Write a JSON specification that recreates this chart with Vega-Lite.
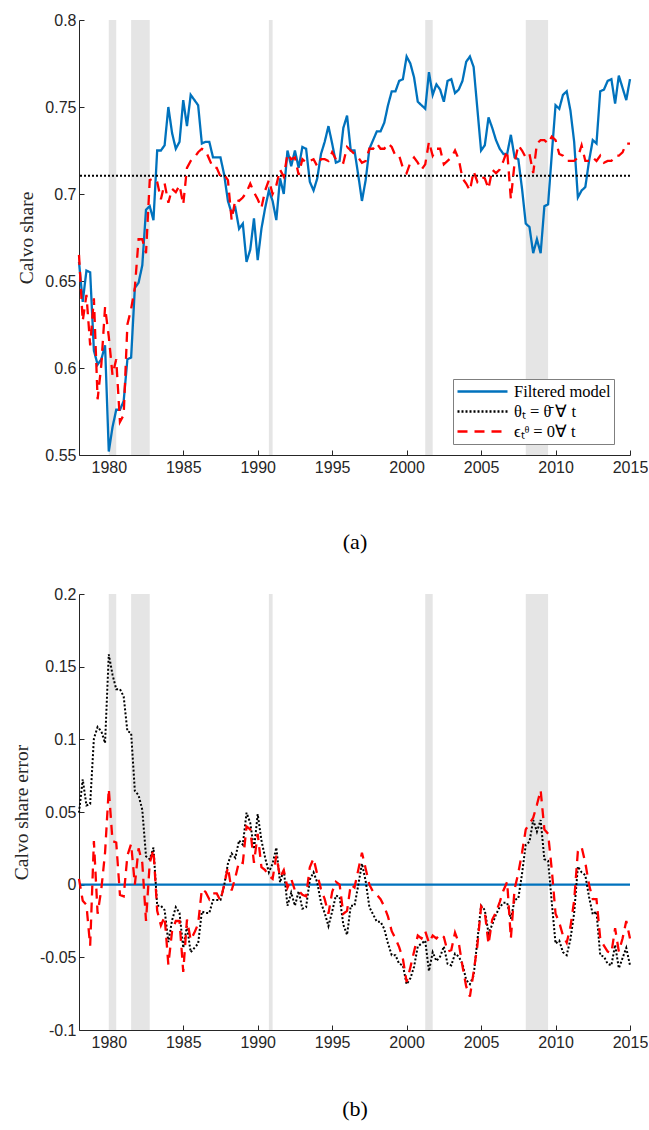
{
  "$schema": "https://vega.github.io/schema/vega-lite/v6.json",
  "background": "white",
  "padding": {"left": 11, "top": 12, "right": 0, "bottom": 5},
  "spacing": 34,
  "datasets": {
    "recessions": [
      {"start": 1980.0, "end": 1980.5},
      {"start": 1981.5, "end": 1982.75},
      {"start": 1990.75, "end": 1991.0},
      {"start": 2001.25, "end": 2001.75},
      {"start": 2008.0, "end": 2009.5}
    ],
    "series": [
      {"t": 1978.00, "filtered": 0.661, "eps0": 0.665, "err_theta": 0.0495, "err_eps": 0.004},
      {"t": 1978.25, "filtered": 0.638, "eps0": 0.627, "err_theta": 0.0725, "err_eps": -0.011},
      {"t": 1978.50, "filtered": 0.656, "eps0": 0.642, "err_theta": 0.0545, "err_eps": -0.014},
      {"t": 1978.75, "filtered": 0.655, "eps0": 0.613, "err_theta": 0.0555, "err_eps": -0.042},
      {"t": 1979.00, "filtered": 0.610, "eps0": 0.640, "err_theta": 0.1005, "err_eps": 0.030},
      {"t": 1979.25, "filtered": 0.602, "eps0": 0.582, "err_theta": 0.1085, "err_eps": -0.020},
      {"t": 1979.50, "filtered": 0.605, "eps0": 0.602, "err_theta": 0.1055, "err_eps": -0.003},
      {"t": 1979.75, "filtered": 0.613, "eps0": 0.635, "err_theta": 0.0975, "err_eps": 0.022},
      {"t": 1980.00, "filtered": 0.552, "eps0": 0.618, "err_theta": 0.1585, "err_eps": 0.066},
      {"t": 1980.25, "filtered": 0.566, "eps0": 0.596, "err_theta": 0.1445, "err_eps": 0.030},
      {"t": 1980.50, "filtered": 0.576, "eps0": 0.605, "err_theta": 0.1345, "err_eps": 0.029},
      {"t": 1980.75, "filtered": 0.576, "eps0": 0.569, "err_theta": 0.1345, "err_eps": -0.007},
      {"t": 1981.00, "filtered": 0.581, "eps0": 0.573, "err_theta": 0.1295, "err_eps": -0.008},
      {"t": 1981.25, "filtered": 0.605, "eps0": 0.625, "err_theta": 0.1055, "err_eps": 0.020},
      {"t": 1981.50, "filtered": 0.606, "eps0": 0.634, "err_theta": 0.1045, "err_eps": 0.028},
      {"t": 1981.75, "filtered": 0.646, "eps0": 0.646, "err_theta": 0.0645, "err_eps": 0.000},
      {"t": 1982.00, "filtered": 0.649, "eps0": 0.674, "err_theta": 0.0615, "err_eps": 0.025},
      {"t": 1982.25, "filtered": 0.659, "eps0": 0.674, "err_theta": 0.0515, "err_eps": 0.015},
      {"t": 1982.50, "filtered": 0.691, "eps0": 0.666, "err_theta": 0.0195, "err_eps": -0.025},
      {"t": 1982.75, "filtered": 0.693, "eps0": 0.708, "err_theta": 0.0175, "err_eps": 0.015},
      {"t": 1983.00, "filtered": 0.685, "eps0": 0.709, "err_theta": 0.0255, "err_eps": 0.024},
      {"t": 1983.25, "filtered": 0.725, "eps0": 0.707, "err_theta": -0.0145, "err_eps": -0.018},
      {"t": 1983.50, "filtered": 0.725, "eps0": 0.697, "err_theta": -0.0145, "err_eps": -0.028},
      {"t": 1983.75, "filtered": 0.728, "eps0": 0.706, "err_theta": -0.0175, "err_eps": -0.022},
      {"t": 1984.00, "filtered": 0.750, "eps0": 0.695, "err_theta": -0.0395, "err_eps": -0.055},
      {"t": 1984.25, "filtered": 0.735, "eps0": 0.703, "err_theta": -0.0245, "err_eps": -0.032},
      {"t": 1984.50, "filtered": 0.726, "eps0": 0.701, "err_theta": -0.0155, "err_eps": -0.025},
      {"t": 1984.75, "filtered": 0.730, "eps0": 0.705, "err_theta": -0.0195, "err_eps": -0.025},
      {"t": 1985.00, "filtered": 0.754, "eps0": 0.694, "err_theta": -0.0435, "err_eps": -0.060},
      {"t": 1985.25, "filtered": 0.739, "eps0": 0.715, "err_theta": -0.0285, "err_eps": -0.024},
      {"t": 1985.50, "filtered": 0.757, "eps0": 0.719, "err_theta": -0.0465, "err_eps": -0.038},
      {"t": 1985.75, "filtered": 0.754, "eps0": 0.721, "err_theta": -0.0435, "err_eps": -0.033},
      {"t": 1986.00, "filtered": 0.751, "eps0": 0.724, "err_theta": -0.0405, "err_eps": -0.027},
      {"t": 1986.25, "filtered": 0.729, "eps0": 0.726, "err_theta": -0.0185, "err_eps": -0.003},
      {"t": 1986.50, "filtered": 0.730, "eps0": 0.725, "err_theta": -0.0195, "err_eps": -0.005},
      {"t": 1986.75, "filtered": 0.730, "eps0": 0.720, "err_theta": -0.0195, "err_eps": -0.010},
      {"t": 1987.00, "filtered": 0.721, "eps0": 0.715, "err_theta": -0.0105, "err_eps": -0.006},
      {"t": 1987.25, "filtered": 0.721, "eps0": 0.715, "err_theta": -0.0105, "err_eps": -0.006},
      {"t": 1987.50, "filtered": 0.721, "eps0": 0.710, "err_theta": -0.0105, "err_eps": -0.011},
      {"t": 1987.75, "filtered": 0.711, "eps0": 0.711, "err_theta": -0.0005, "err_eps": 0.000},
      {"t": 1988.00, "filtered": 0.696, "eps0": 0.708, "err_theta": 0.0145, "err_eps": 0.012},
      {"t": 1988.25, "filtered": 0.689, "eps0": 0.685, "err_theta": 0.0215, "err_eps": -0.004},
      {"t": 1988.50, "filtered": 0.692, "eps0": 0.697, "err_theta": 0.0185, "err_eps": 0.005},
      {"t": 1988.75, "filtered": 0.680, "eps0": 0.696, "err_theta": 0.0305, "err_eps": 0.016},
      {"t": 1989.00, "filtered": 0.683, "eps0": 0.698, "err_theta": 0.0275, "err_eps": 0.015},
      {"t": 1989.25, "filtered": 0.661, "eps0": 0.701, "err_theta": 0.0495, "err_eps": 0.040},
      {"t": 1989.50, "filtered": 0.668, "eps0": 0.706, "err_theta": 0.0425, "err_eps": 0.038},
      {"t": 1989.75, "filtered": 0.686, "eps0": 0.701, "err_theta": 0.0245, "err_eps": 0.015},
      {"t": 1990.00, "filtered": 0.662, "eps0": 0.697, "err_theta": 0.0485, "err_eps": 0.035},
      {"t": 1990.25, "filtered": 0.680, "eps0": 0.692, "err_theta": 0.0305, "err_eps": 0.012},
      {"t": 1990.50, "filtered": 0.692, "eps0": 0.702, "err_theta": 0.0185, "err_eps": 0.010},
      {"t": 1990.75, "filtered": 0.702, "eps0": 0.708, "err_theta": 0.0085, "err_eps": 0.006},
      {"t": 1991.00, "filtered": 0.696, "eps0": 0.700, "err_theta": 0.0145, "err_eps": 0.004},
      {"t": 1991.25, "filtered": 0.685, "eps0": 0.705, "err_theta": 0.0255, "err_eps": 0.020},
      {"t": 1991.50, "filtered": 0.709, "eps0": 0.714, "err_theta": 0.0015, "err_eps": 0.005},
      {"t": 1991.75, "filtered": 0.700, "eps0": 0.710, "err_theta": 0.0105, "err_eps": 0.010},
      {"t": 1992.00, "filtered": 0.725, "eps0": 0.723, "err_theta": -0.0145, "err_eps": -0.002},
      {"t": 1992.25, "filtered": 0.716, "eps0": 0.720, "err_theta": -0.0055, "err_eps": 0.004},
      {"t": 1992.50, "filtered": 0.725, "eps0": 0.721, "err_theta": -0.0145, "err_eps": -0.004},
      {"t": 1992.75, "filtered": 0.715, "eps0": 0.711, "err_theta": -0.0045, "err_eps": -0.004},
      {"t": 1993.00, "filtered": 0.727, "eps0": 0.720, "err_theta": -0.0165, "err_eps": -0.007},
      {"t": 1993.25, "filtered": 0.726, "eps0": 0.718, "err_theta": -0.0155, "err_eps": -0.008},
      {"t": 1993.50, "filtered": 0.707, "eps0": 0.719, "err_theta": 0.0035, "err_eps": 0.012},
      {"t": 1993.75, "filtered": 0.702, "eps0": 0.720, "err_theta": 0.0085, "err_eps": 0.018},
      {"t": 1994.00, "filtered": 0.709, "eps0": 0.716, "err_theta": 0.0015, "err_eps": 0.007},
      {"t": 1994.25, "filtered": 0.723, "eps0": 0.720, "err_theta": -0.0125, "err_eps": -0.003},
      {"t": 1994.50, "filtered": 0.730, "eps0": 0.720, "err_theta": -0.0195, "err_eps": -0.010},
      {"t": 1994.75, "filtered": 0.739, "eps0": 0.719, "err_theta": -0.0285, "err_eps": -0.020},
      {"t": 1995.00, "filtered": 0.729, "eps0": 0.724, "err_theta": -0.0185, "err_eps": -0.005},
      {"t": 1995.25, "filtered": 0.718, "eps0": 0.720, "err_theta": -0.0075, "err_eps": 0.002},
      {"t": 1995.50, "filtered": 0.719, "eps0": 0.719, "err_theta": -0.0085, "err_eps": 0.000},
      {"t": 1995.75, "filtered": 0.738, "eps0": 0.718, "err_theta": -0.0275, "err_eps": -0.020},
      {"t": 1996.00, "filtered": 0.745, "eps0": 0.727, "err_theta": -0.0345, "err_eps": -0.018},
      {"t": 1996.25, "filtered": 0.725, "eps0": 0.725, "err_theta": -0.0145, "err_eps": 0.000},
      {"t": 1996.50, "filtered": 0.725, "eps0": 0.723, "err_theta": -0.0145, "err_eps": -0.002},
      {"t": 1996.75, "filtered": 0.711, "eps0": 0.721, "err_theta": -0.0005, "err_eps": 0.010},
      {"t": 1997.00, "filtered": 0.696, "eps0": 0.718, "err_theta": 0.0145, "err_eps": 0.022},
      {"t": 1997.25, "filtered": 0.708, "eps0": 0.719, "err_theta": 0.0025, "err_eps": 0.011},
      {"t": 1997.50, "filtered": 0.726, "eps0": 0.726, "err_theta": -0.0155, "err_eps": 0.000},
      {"t": 1997.75, "filtered": 0.731, "eps0": 0.726, "err_theta": -0.0205, "err_eps": -0.005},
      {"t": 1998.00, "filtered": 0.736, "eps0": 0.729, "err_theta": -0.0255, "err_eps": -0.007},
      {"t": 1998.25, "filtered": 0.736, "eps0": 0.726, "err_theta": -0.0255, "err_eps": -0.010},
      {"t": 1998.50, "filtered": 0.741, "eps0": 0.726, "err_theta": -0.0305, "err_eps": -0.015},
      {"t": 1998.75, "filtered": 0.751, "eps0": 0.729, "err_theta": -0.0405, "err_eps": -0.022},
      {"t": 1999.00, "filtered": 0.759, "eps0": 0.727, "err_theta": -0.0485, "err_eps": -0.032},
      {"t": 1999.25, "filtered": 0.759, "eps0": 0.722, "err_theta": -0.0485, "err_eps": -0.037},
      {"t": 1999.50, "filtered": 0.765, "eps0": 0.722, "err_theta": -0.0545, "err_eps": -0.043},
      {"t": 1999.75, "filtered": 0.766, "eps0": 0.715, "err_theta": -0.0555, "err_eps": -0.051},
      {"t": 2000.00, "filtered": 0.779, "eps0": 0.712, "err_theta": -0.0685, "err_eps": -0.067},
      {"t": 2000.25, "filtered": 0.775, "eps0": 0.718, "err_theta": -0.0645, "err_eps": -0.057},
      {"t": 2000.50, "filtered": 0.767, "eps0": 0.721, "err_theta": -0.0565, "err_eps": -0.046},
      {"t": 2000.75, "filtered": 0.753, "eps0": 0.718, "err_theta": -0.0425, "err_eps": -0.035},
      {"t": 2001.00, "filtered": 0.751, "eps0": 0.714, "err_theta": -0.0405, "err_eps": -0.037},
      {"t": 2001.25, "filtered": 0.749, "eps0": 0.717, "err_theta": -0.0385, "err_eps": -0.032},
      {"t": 2001.50, "filtered": 0.770, "eps0": 0.730, "err_theta": -0.0595, "err_eps": -0.040},
      {"t": 2001.75, "filtered": 0.757, "eps0": 0.722, "err_theta": -0.0465, "err_eps": -0.035},
      {"t": 2002.00, "filtered": 0.763, "eps0": 0.726, "err_theta": -0.0525, "err_eps": -0.037},
      {"t": 2002.25, "filtered": 0.760, "eps0": 0.726, "err_theta": -0.0495, "err_eps": -0.034},
      {"t": 2002.50, "filtered": 0.753, "eps0": 0.717, "err_theta": -0.0425, "err_eps": -0.036},
      {"t": 2002.75, "filtered": 0.765, "eps0": 0.719, "err_theta": -0.0545, "err_eps": -0.046},
      {"t": 2003.00, "filtered": 0.766, "eps0": 0.721, "err_theta": -0.0555, "err_eps": -0.045},
      {"t": 2003.25, "filtered": 0.758, "eps0": 0.725, "err_theta": -0.0475, "err_eps": -0.033},
      {"t": 2003.50, "filtered": 0.760, "eps0": 0.720, "err_theta": -0.0495, "err_eps": -0.040},
      {"t": 2003.75, "filtered": 0.765, "eps0": 0.709, "err_theta": -0.0545, "err_eps": -0.056},
      {"t": 2004.00, "filtered": 0.776, "eps0": 0.706, "err_theta": -0.0655, "err_eps": -0.070},
      {"t": 2004.25, "filtered": 0.779, "eps0": 0.702, "err_theta": -0.0685, "err_eps": -0.077},
      {"t": 2004.50, "filtered": 0.773, "eps0": 0.713, "err_theta": -0.0625, "err_eps": -0.060},
      {"t": 2004.75, "filtered": 0.749, "eps0": 0.707, "err_theta": -0.0385, "err_eps": -0.042},
      {"t": 2005.00, "filtered": 0.725, "eps0": 0.710, "err_theta": -0.0145, "err_eps": -0.015},
      {"t": 2005.25, "filtered": 0.728, "eps0": 0.709, "err_theta": -0.0175, "err_eps": -0.019},
      {"t": 2005.50, "filtered": 0.744, "eps0": 0.703, "err_theta": -0.0335, "err_eps": -0.041},
      {"t": 2005.75, "filtered": 0.738, "eps0": 0.714, "err_theta": -0.0275, "err_eps": -0.024},
      {"t": 2006.00, "filtered": 0.731, "eps0": 0.712, "err_theta": -0.0205, "err_eps": -0.019},
      {"t": 2006.25, "filtered": 0.726, "eps0": 0.714, "err_theta": -0.0155, "err_eps": -0.012},
      {"t": 2006.50, "filtered": 0.723, "eps0": 0.719, "err_theta": -0.0125, "err_eps": -0.004},
      {"t": 2006.75, "filtered": 0.723, "eps0": 0.725, "err_theta": -0.0125, "err_eps": 0.002},
      {"t": 2007.00, "filtered": 0.734, "eps0": 0.697, "err_theta": -0.0235, "err_eps": -0.037},
      {"t": 2007.25, "filtered": 0.721, "eps0": 0.718, "err_theta": -0.0105, "err_eps": -0.003},
      {"t": 2007.50, "filtered": 0.720, "eps0": 0.728, "err_theta": -0.0095, "err_eps": 0.008},
      {"t": 2007.75, "filtered": 0.703, "eps0": 0.725, "err_theta": 0.0075, "err_eps": 0.022},
      {"t": 2008.00, "filtered": 0.683, "eps0": 0.721, "err_theta": 0.0275, "err_eps": 0.038},
      {"t": 2008.25, "filtered": 0.681, "eps0": 0.723, "err_theta": 0.0295, "err_eps": 0.042},
      {"t": 2008.50, "filtered": 0.666, "eps0": 0.712, "err_theta": 0.0445, "err_eps": 0.046},
      {"t": 2008.75, "filtered": 0.674, "eps0": 0.729, "err_theta": 0.0365, "err_eps": 0.055},
      {"t": 2009.00, "filtered": 0.666, "eps0": 0.731, "err_theta": 0.0445, "err_eps": 0.065},
      {"t": 2009.25, "filtered": 0.693, "eps0": 0.731, "err_theta": 0.0175, "err_eps": 0.038},
      {"t": 2009.50, "filtered": 0.694, "eps0": 0.729, "err_theta": 0.0165, "err_eps": 0.035},
      {"t": 2009.75, "filtered": 0.723, "eps0": 0.733, "err_theta": -0.0125, "err_eps": 0.010},
      {"t": 2010.00, "filtered": 0.751, "eps0": 0.731, "err_theta": -0.0405, "err_eps": -0.020},
      {"t": 2010.25, "filtered": 0.749, "eps0": 0.723, "err_theta": -0.0385, "err_eps": -0.026},
      {"t": 2010.50, "filtered": 0.757, "eps0": 0.722, "err_theta": -0.0465, "err_eps": -0.035},
      {"t": 2010.75, "filtered": 0.759, "eps0": 0.719, "err_theta": -0.0485, "err_eps": -0.040},
      {"t": 2011.00, "filtered": 0.748, "eps0": 0.719, "err_theta": -0.0375, "err_eps": -0.029},
      {"t": 2011.25, "filtered": 0.730, "eps0": 0.719, "err_theta": -0.0195, "err_eps": -0.011},
      {"t": 2011.50, "filtered": 0.698, "eps0": 0.721, "err_theta": 0.0125, "err_eps": 0.023},
      {"t": 2011.75, "filtered": 0.702, "eps0": 0.728, "err_theta": 0.0085, "err_eps": 0.026},
      {"t": 2012.00, "filtered": 0.704, "eps0": 0.719, "err_theta": 0.0065, "err_eps": 0.015},
      {"t": 2012.25, "filtered": 0.719, "eps0": 0.719, "err_theta": -0.0085, "err_eps": 0.000},
      {"t": 2012.50, "filtered": 0.731, "eps0": 0.721, "err_theta": -0.0205, "err_eps": -0.010},
      {"t": 2012.75, "filtered": 0.729, "eps0": 0.719, "err_theta": -0.0185, "err_eps": -0.010},
      {"t": 2013.00, "filtered": 0.759, "eps0": 0.722, "err_theta": -0.0485, "err_eps": -0.037},
      {"t": 2013.25, "filtered": 0.760, "eps0": 0.718, "err_theta": -0.0495, "err_eps": -0.042},
      {"t": 2013.50, "filtered": 0.765, "eps0": 0.719, "err_theta": -0.0545, "err_eps": -0.046},
      {"t": 2013.75, "filtered": 0.766, "eps0": 0.719, "err_theta": -0.0555, "err_eps": -0.047},
      {"t": 2014.00, "filtered": 0.752, "eps0": 0.722, "err_theta": -0.0415, "err_eps": -0.030},
      {"t": 2014.25, "filtered": 0.768, "eps0": 0.722, "err_theta": -0.0575, "err_eps": -0.046},
      {"t": 2014.50, "filtered": 0.761, "eps0": 0.724, "err_theta": -0.0505, "err_eps": -0.037},
      {"t": 2014.75, "filtered": 0.754, "eps0": 0.729, "err_theta": -0.0435, "err_eps": -0.025},
      {"t": 2015.00, "filtered": 0.766, "eps0": 0.729, "err_theta": -0.0555, "err_eps": -0.037}
    ]
  },
  "config": {
    "view": {"stroke": null},
    "axis": {
      "grid": false,
      "labelFont": "Liberation Sans",
      "labelFontSize": 16,
      "labelColor": "#262626",
      "labelFlush": false,
      "domainColor": "#262626",
      "domainWidth": 1,
      "tickColor": "#262626",
      "tickWidth": 1,
      "tickSize": -5,
      "titleFont": "Liberation Serif",
      "titleFontWeight": "normal",
      "titleColor": "#262626"
    }
  },
  "resolve": {"scale": {"color": "independent", "strokeDash": "independent"}},
  "vconcat": [
    {
      "width": 551,
      "height": 435,
      "layer": [
        {
          "data": {"name": "recessions"},
          "mark": {"type": "rect", "color": "#e5e5e5"},
          "encoding": {
            "x": {"field": "start", "type": "quantitative", "scale": {"domain": [1978, 2015], "nice": false, "zero": false},
              "axis": {"values": [1980, 1985, 1990, 1995, 2000, 2005, 2010, 2015], "format": "d", "labelFlush": false, "labelPadding": 9, "title": "(a)", "titleFontSize": 22, "titleColor": "#000000", "titlePadding": 56}},
            "x2": {"field": "end"}
          }
        },
        {
          "data": {"name": "series"},
          "mark": {"type": "line", "strokeWidth": 2.3},
          "encoding": {
            "x": {"field": "t", "type": "quantitative"},
            "y": {"field": "filtered", "type": "quantitative", "scale": {"domain": [0.55, 0.8], "nice": false, "zero": false},
              "axis": {"values": [0.55, 0.6, 0.65, 0.7, 0.75, 0.8], "format": ".2~f", "labelPadding": 8, "title": "Calvo share", "titleFontSize": 19.5, "titlePadding": 8}},
            "color": {"datum": "filtered", "type": "nominal",
              "scale": {"domain": ["filtered", "theta", "eps"], "range": ["#0072BD", "#000000", "#FF0000"]},
              "legend": {"orient": "none", "legendX": 374, "legendY": 359, "title": null, "symbolType": "stroke", "symbolSize": 2500, "symbolStrokeWidth": 2.3, "clipHeight": 19, "rowPadding": 1, "padding": 3, "labelOffset": 5, "labelFont": "Liberation Serif", "labelFontSize": 16.5, "labelColor": "#000000", "strokeColor": "#7f7f7f", "fillColor": "white",
                "labelExpr": "datum.value == 'filtered' ? 'Filtered model' : datum.value == 'theta' ? 'θₜ = θ̄ ∀ t' : 'ϵₜᶿ = 0∀ t'"}},
            "strokeDash": {"datum": "filtered", "type": "nominal",
              "scale": {"domain": ["filtered", "theta", "eps"], "range": [[1, 0], [2, 2], [10, 7]]}}
          }
        },
        {
          "data": {"values": [{}]},
          "mark": {"type": "rule", "strokeWidth": 2},
          "encoding": {
            "y": {"datum": 0.7105},
            "color": {"datum": "theta", "type": "nominal"},
            "strokeDash": {"datum": "theta", "type": "nominal"}
          }
        },
        {
          "data": {"name": "series"},
          "mark": {"type": "line", "strokeWidth": 2.3},
          "encoding": {
            "x": {"field": "t", "type": "quantitative"},
            "y": {"field": "eps0", "type": "quantitative"},
            "color": {"datum": "eps", "type": "nominal"},
            "strokeDash": {"datum": "eps", "type": "nominal"}
          }
        }
      ]
    },
    {
      "width": 551,
      "height": 436,
      "layer": [
        {
          "data": {"name": "recessions"},
          "mark": {"type": "rect", "color": "#e5e5e5"},
          "encoding": {
            "x": {"field": "start", "type": "quantitative", "scale": {"domain": [1978, 2015], "nice": false, "zero": false},
              "axis": {"values": [1980, 1985, 1990, 1995, 2000, 2005, 2010, 2015], "format": "d", "labelFlush": false, "labelPadding": 9, "title": "(b)", "titleFontSize": 22, "titleColor": "#000000", "titlePadding": 48}},
            "x2": {"field": "end"}
          }
        },
        {
          "data": {"values": [{}]},
          "mark": {"type": "rule", "strokeWidth": 2.3},
          "encoding": {
            "y": {"datum": 0, "scale": {"domain": [-0.1, 0.2], "nice": false, "zero": false},
              "axis": {"values": [-0.1, -0.05, 0, 0.05, 0.1, 0.15, 0.2], "format": ".2~f", "labelExpr": "replace(datum.label, '−', '-')", "labelPadding": 8, "title": "Calvo share error", "titleFontSize": 19.5, "titlePadding": 8}},
            "color": {"datum": "filtered", "type": "nominal",
              "scale": {"domain": ["filtered", "theta", "eps"], "range": ["#0072BD", "#000000", "#FF0000"]}, "legend": null},
            "strokeDash": {"datum": "filtered", "type": "nominal",
              "scale": {"domain": ["filtered", "theta", "eps"], "range": [[1, 0], [2, 2], [10, 7]]}, "legend": null}
          }
        },
        {
          "data": {"name": "series"},
          "mark": {"type": "line", "strokeWidth": 2},
          "encoding": {
            "x": {"field": "t", "type": "quantitative"},
            "y": {"field": "err_theta", "type": "quantitative"},
            "color": {"datum": "theta", "type": "nominal"},
            "strokeDash": {"datum": "theta", "type": "nominal"}
          }
        },
        {
          "data": {"name": "series"},
          "mark": {"type": "line", "strokeWidth": 2.3},
          "encoding": {
            "x": {"field": "t", "type": "quantitative"},
            "y": {"field": "err_eps", "type": "quantitative"},
            "color": {"datum": "eps", "type": "nominal"},
            "strokeDash": {"datum": "eps", "type": "nominal"}
          }
        }
      ]
    }
  ]
}
